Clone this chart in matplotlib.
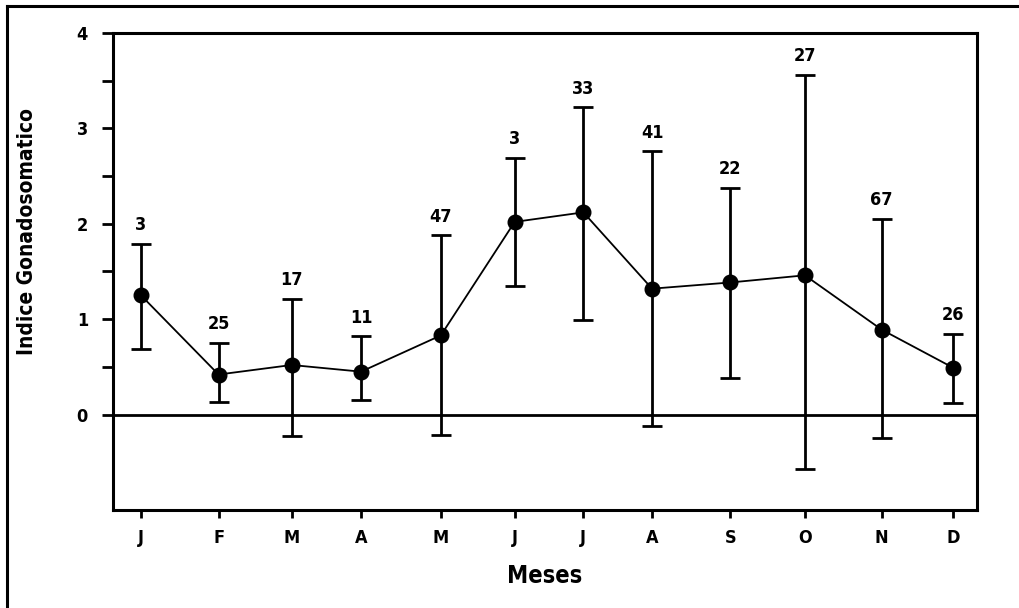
import matplotlib
matplotlib.use("Agg")
import matplotlib.pyplot as plt
from matplotlib.lines import Line2D

plt.rcParams['font.family'] = ['DejaVu Sans']
plt.rcParams['font.stretch'] = 'condensed'
plt.rcParams['font.weight'] = 'bold'

months = ["J", "F", "M", "A", "M", "J", "J", "A", "S", "O", "N", "D"]
month_pos = [0, 1.05, 2.04, 2.98, 4.06, 5.06, 5.99, 6.92, 7.98, 8.99, 10.03, 11.0]
ig_mean = [1.25, 0.42, 0.52, 0.45, 0.83, 2.02, 2.12, 1.32, 1.385, 1.46, 0.89, 0.49]
ig_upper = [1.79, 0.75, 1.21, 0.82, 1.88, 2.69, 3.22, 2.76, 2.38, 3.56, 2.05, 0.85]
ig_lower = [0.69, 0.136, -0.22, 0.15, -0.21, 1.35, 0.995, -0.115, 0.38, -0.565, -0.245, 0.12]
n_samples = [3, 25, 17, 11, 47, 3, 33, 41, 22, 27, 67, 26]

fig = plt.figure(figsize=(10.2, 6.08), dpi=100)
ax = fig.add_axes([113/1020, 1 - 510/608, (977-113)/1020, (510-33)/608])

err_lo = [m - l for m, l in zip(ig_mean, ig_lower)]
err_hi = [u - m for m, u in zip(ig_mean, ig_upper)]

ax.axhline(0, color='black', lw=2, zorder=1)
ax.plot(month_pos, ig_mean, color='black', lw=1.3, zorder=2)
ax.errorbar(month_pos, ig_mean, yerr=[err_lo, err_hi], fmt='o', color='black',
            ms=10.5, capsize=7, capthick=2, elinewidth=2, zorder=3)

for x, u, n in zip(month_pos, ig_upper, n_samples):
    ax.annotate(str(n), (x, u), xytext=(0, 7), textcoords='offset points',
                ha='center', va='bottom', fontsize=13, fontweight='bold',
                fontstretch='condensed')

ax.set_xlim(-0.379, 11.32)
ax.set_ylim(-1, 4)
ax.set_xticks(month_pos)
ax.set_xticklabels(months)
ax.set_yticks([0, 1, 2, 3, 4])
ax.set_yticks([0.5, 1.5, 2.5, 3.5], minor=True)

for s in ax.spines.values():
    s.set_linewidth(2.2)

ax.tick_params(axis='y', which='both', direction='out', length=8, width=2,
               labelsize=13, pad=10)
ax.tick_params(axis='x', direction='out', length=6, width=2, labelsize=13, pad=8)
for lab in ax.get_xticklabels() + ax.get_yticklabels():
    lab.set_fontweight('bold')
    lab.set_fontstretch('condensed')

ax.set_xlabel("Meses", fontsize=17, fontweight='bold', fontstretch='condensed', labelpad=12)
ax.set_ylabel("Indice Gonadosomatico", fontsize=15, fontweight='bold', fontstretch='condensed')
ax.yaxis.set_label_coords(-0.088, 0.583)

# partial figure frame (top and left)
fig.add_artist(Line2D([7/1020, 7/1020], [0, 1 - 6/608], transform=fig.transFigure,
                      color='black', lw=2.2))
fig.add_artist(Line2D([7/1020, 1], [1 - 6/608, 1 - 6/608], transform=fig.transFigure,
                      color='black', lw=2.2))

fig.savefig("out.png", dpi=100)
